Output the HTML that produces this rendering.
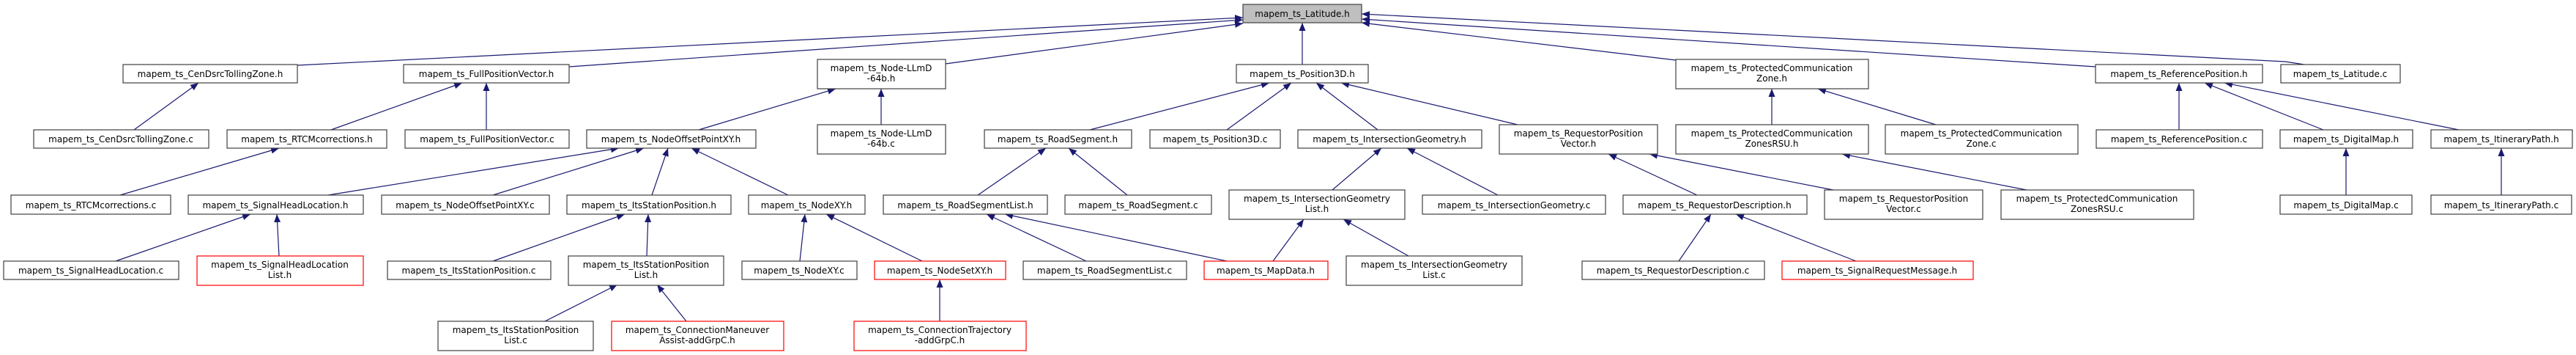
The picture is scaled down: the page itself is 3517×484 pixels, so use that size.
<!DOCTYPE html>
<html><head><meta charset="utf-8"><style>
html,body{margin:0;padding:0;background:#fff;}
svg{display:block;}
text{font-family:"DejaVu Sans","Liberation Sans",sans-serif;font-size:12px;fill:#000;text-anchor:middle;}
.b{fill:#fff;stroke:#404040;stroke-width:1.2;}
.r{fill:#fff;stroke:#ff0000;stroke-width:1.2;}
.e{stroke:#191970;stroke-width:1.2;fill:none;marker-end:url(#a);}
</style></head><body>
<svg width="3517" height="484" viewBox="0 0 3517 484" xmlns="http://www.w3.org/2000/svg">
<defs><marker id="a" markerUnits="userSpaceOnUse" markerWidth="12" markerHeight="10" refX="11" refY="4.5" orient="auto"><path d="M0,0 L11,4.5 L0,9 z" fill="#191970"/></marker></defs>
<!-- edges -->
<line class="e" x1="406" y1="89" x2="1697" y2="24"/>
<line class="e" x1="777" y1="91" x2="1697" y2="27"/>
<line class="e" x1="1291" y1="87" x2="1697" y2="32"/>
<line class="e" x1="1778" y1="88" x2="1778" y2="31"/>
<line class="e" x1="2288" y1="82" x2="1859" y2="31"/>
<line class="e" x1="2861" y1="91" x2="1859" y2="26"/>
<polyline class="e" points="3146,88 3120,84 1859,19"/>
<line class="e" x1="183" y1="177" x2="271" y2="113"/>
<line class="e" x1="452" y1="177" x2="631" y2="113"/>
<line class="e" x1="664" y1="177" x2="664" y2="113"/>
<line class="e" x1="954" y1="177" x2="1141" y2="121"/>
<line class="e" x1="1203" y1="170" x2="1203" y2="121"/>
<line class="e" x1="1488" y1="177" x2="1733" y2="113"/>
<line class="e" x1="1675" y1="177" x2="1763" y2="113"/>
<line class="e" x1="1881" y1="177" x2="1797" y2="113"/>
<line class="e" x1="2072" y1="170" x2="1831" y2="113"/>
<line class="e" x1="2419" y1="170" x2="2419" y2="121"/>
<line class="e" x1="2643" y1="170" x2="2482" y2="121"/>
<line class="e" x1="2975" y1="177" x2="2975" y2="113"/>
<line class="e" x1="3172" y1="177" x2="3010" y2="113"/>
<line class="e" x1="3357" y1="177" x2="3037" y2="113"/>
<line class="e" x1="164" y1="266" x2="381" y2="202"/>
<line class="e" x1="448" y1="266" x2="845" y2="202"/>
<line class="e" x1="673" y1="266" x2="879" y2="202"/>
<line class="e" x1="890" y1="266" x2="912" y2="202"/>
<line class="e" x1="1076" y1="266" x2="944" y2="202"/>
<line class="e" x1="158" y1="356" x2="342" y2="292"/>
<line class="e" x1="381" y1="349" x2="378" y2="292"/>
<line class="e" x1="673" y1="356" x2="853" y2="292"/>
<line class="e" x1="883" y1="349" x2="885" y2="292"/>
<line class="e" x1="1092" y1="356" x2="1099" y2="292"/>
<line class="e" x1="1259" y1="356" x2="1128" y2="292"/>
<line class="e" x1="744" y1="438" x2="843" y2="388"/>
<line class="e" x1="937" y1="438" x2="897" y2="388"/>
<line class="e" x1="1283" y1="438" x2="1283" y2="381"/>
<line class="e" x1="1335" y1="266" x2="1428" y2="202"/>
<line class="e" x1="1539" y1="266" x2="1459" y2="202"/>
<line class="e" x1="1483" y1="356" x2="1347" y2="292"/>
<line class="e" x1="1675" y1="356" x2="1372" y2="292"/>
<line class="e" x1="1738" y1="356" x2="1780" y2="299"/>
<line class="e" x1="1819" y1="259" x2="1886" y2="202"/>
<line class="e" x1="2045" y1="266" x2="1921" y2="202"/>
<line class="e" x1="1923" y1="349" x2="1834" y2="299"/>
<line class="e" x1="2317" y1="266" x2="2196" y2="210"/>
<line class="e" x1="2503" y1="259" x2="2252" y2="210"/>
<line class="e" x1="2767" y1="259" x2="2515" y2="210"/>
<line class="e" x1="2292" y1="356" x2="2336" y2="292"/>
<line class="e" x1="2534" y1="356" x2="2370" y2="292"/>
<line class="e" x1="3203" y1="266" x2="3203" y2="202"/>
<line class="e" x1="3415" y1="266" x2="3415" y2="202"/>
<!-- row 0 -->
<rect x="1697" y="6" width="162" height="25" fill="#bfbfbf" stroke="#404040" stroke-width="1.2"/>
<text x="1778" y="23">mapem_ts_Latitude.h</text>
<!-- row 1 -->
<rect class="b" x="168" y="88" width="238" height="25"/><text x="287" y="105">mapem_ts_CenDsrcTollingZone.h</text>
<rect class="b" x="551" y="88" width="226" height="25"/><text x="664" y="105">mapem_ts_FullPositionVector.h</text>
<rect class="b" x="1116" y="81" width="175" height="40"/><text x="1203" y="97">mapem_ts_Node-LLmD</text><text x="1203" y="111">-64b.h</text>
<rect class="b" x="1688" y="88" width="180" height="25"/><text x="1778" y="105">mapem_ts_Position3D.h</text>
<rect class="b" x="2288" y="81" width="263" height="40"/><text x="2419" y="97">mapem_ts_ProtectedCommunication</text><text x="2419" y="111">Zone.h</text>
<rect class="b" x="2861" y="88" width="228" height="25"/><text x="2975" y="105">mapem_ts_ReferencePosition.h</text>
<rect class="b" x="3114" y="88" width="163" height="25"/><text x="3195" y="105">mapem_ts_Latitude.c</text>
<!-- row 2 -->
<rect class="b" x="46" y="177" width="239" height="25"/><text x="165" y="194">mapem_ts_CenDsrcTollingZone.c</text>
<rect class="b" x="310" y="177" width="218" height="25"/><text x="419" y="194">mapem_ts_RTCMcorrections.h</text>
<rect class="b" x="553" y="177" width="224" height="25"/><text x="665" y="194">mapem_ts_FullPositionVector.c</text>
<rect class="b" x="801" y="177" width="231" height="25"/><text x="916" y="194">mapem_ts_NodeOffsetPointXY.h</text>
<rect class="b" x="1116" y="170" width="175" height="40"/><text x="1203" y="186">mapem_ts_Node-LLmD</text><text x="1203" y="200">-64b.c</text>
<rect class="b" x="1344" y="177" width="201" height="25"/><text x="1444" y="194">mapem_ts_RoadSegment.h</text>
<rect class="b" x="1570" y="177" width="178" height="25"/><text x="1659" y="194">mapem_ts_Position3D.c</text>
<rect class="b" x="1772" y="177" width="251" height="25"/><text x="1897" y="194">mapem_ts_IntersectionGeometry.h</text>
<rect class="b" x="2047" y="170" width="216" height="40"/><text x="2155" y="186">mapem_ts_RequestorPosition</text><text x="2155" y="200">Vector.h</text>
<rect class="b" x="2288" y="170" width="263" height="40"/><text x="2419" y="186">mapem_ts_ProtectedCommunication</text><text x="2419" y="200">ZonesRSU.h</text>
<rect class="b" x="2574" y="170" width="263" height="40"/><text x="2705" y="186">mapem_ts_ProtectedCommunication</text><text x="2705" y="200">Zone.c</text>
<rect class="b" x="2862" y="177" width="227" height="25"/><text x="2975" y="194">mapem_ts_ReferencePosition.c</text>
<rect class="b" x="3113" y="177" width="181" height="25"/><text x="3203" y="194">mapem_ts_DigitalMap.h</text>
<rect class="b" x="3319" y="177" width="193" height="25"/><text x="3415" y="194">mapem_ts_ItineraryPath.h</text>
<!-- row 3 -->
<rect class="b" x="15" y="266" width="218" height="26"/><text x="124" y="284">mapem_ts_RTCMcorrections.c</text>
<rect class="b" x="257" y="266" width="239" height="26"/><text x="376" y="284">mapem_ts_SignalHeadLocation.h</text>
<rect class="b" x="521" y="266" width="229" height="26"/><text x="635" y="284">mapem_ts_NodeOffsetPointXY.c</text>
<rect class="b" x="774" y="266" width="224" height="26"/><text x="886" y="284">mapem_ts_ItsStationPosition.h</text>
<rect class="b" x="1022" y="266" width="159" height="26"/><text x="1101" y="284">mapem_ts_NodeXY.h</text>
<rect class="b" x="1206" y="266" width="224" height="26"/><text x="1318" y="284">mapem_ts_RoadSegmentList.h</text>
<rect class="b" x="1454" y="266" width="200" height="26"/><text x="1554" y="284">mapem_ts_RoadSegment.c</text>
<rect class="b" x="1678" y="259" width="240" height="40"/><text x="1798" y="275">mapem_ts_IntersectionGeometry</text><text x="1798" y="289">List.h</text>
<rect class="b" x="1942" y="266" width="250" height="26"/><text x="2067" y="284">mapem_ts_IntersectionGeometry.c</text>
<rect class="b" x="2216" y="266" width="251" height="26"/><text x="2341" y="284">mapem_ts_RequestorDescription.h</text>
<rect class="b" x="2491" y="259" width="216" height="40"/><text x="2599" y="275">mapem_ts_RequestorPosition</text><text x="2599" y="289">Vector.c</text>
<rect class="b" x="2732" y="259" width="263" height="40"/><text x="2863" y="275">mapem_ts_ProtectedCommunication</text><text x="2863" y="289">ZonesRSU.c</text>
<rect class="b" x="3113" y="266" width="180" height="26"/><text x="3203" y="284">mapem_ts_DigitalMap.c</text>
<rect class="b" x="3319" y="266" width="192" height="26"/><text x="3415" y="284">mapem_ts_ItineraryPath.c</text>
<!-- row 4 -->
<rect class="b" x="5" y="356" width="239" height="25"/><text x="124" y="373">mapem_ts_SignalHeadLocation.c</text>
<rect class="r" x="269" y="349" width="227" height="40"/><text x="382" y="365">mapem_ts_SignalHeadLocation</text><text x="382" y="379">List.h</text>
<rect class="b" x="529" y="356" width="223" height="25"/><text x="640" y="373">mapem_ts_ItsStationPosition.c</text>
<rect class="b" x="776" y="349" width="212" height="40"/><text x="882" y="365">mapem_ts_ItsStationPosition</text><text x="882" y="379">List.h</text>
<rect class="b" x="1013" y="356" width="157" height="25"/><text x="1091" y="373">mapem_ts_NodeXY.c</text>
<rect class="r" x="1194" y="356" width="179" height="25"/><text x="1283" y="373">mapem_ts_NodeSetXY.h</text>
<rect class="b" x="1397" y="356" width="223" height="25"/><text x="1508" y="373">mapem_ts_RoadSegmentList.c</text>
<rect class="r" x="1644" y="356" width="169" height="25"/><text x="1728" y="373">mapem_ts_MapData.h</text>
<rect class="b" x="1838" y="349" width="240" height="40"/><text x="1958" y="365">mapem_ts_IntersectionGeometry</text><text x="1958" y="379">List.c</text>
<rect class="b" x="2160" y="356" width="249" height="25"/><text x="2284" y="373">mapem_ts_RequestorDescription.c</text>
<rect class="r" x="2433" y="356" width="261" height="25"/><text x="2563" y="373">mapem_ts_SignalRequestMessage.h</text>
<!-- row 5 -->
<rect class="b" x="598" y="438" width="212" height="40"/><text x="704" y="454">mapem_ts_ItsStationPosition</text><text x="704" y="468">List.c</text>
<rect class="r" x="835" y="438" width="235" height="40"/><text x="952" y="454">mapem_ts_ConnectionManeuver</text><text x="952" y="468">Assist-addGrpC.h</text>
<rect class="r" x="1166" y="438" width="235" height="40"/><text x="1283" y="454">mapem_ts_ConnectionTrajectory</text><text x="1283" y="468">-addGrpC.h</text>
</svg>
</body></html>
